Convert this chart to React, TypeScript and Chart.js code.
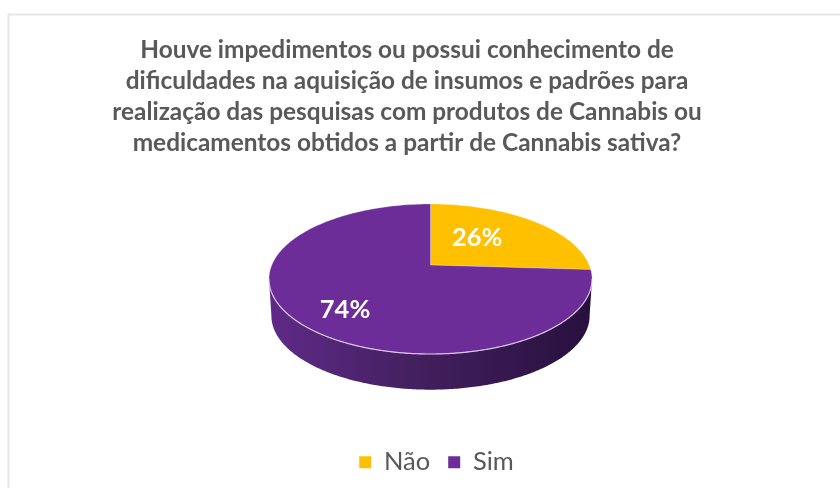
import React, { useEffect, useRef } from "react";
import { Chart, registerables } from "chart.js";

Chart.register(...registerables);

const categories = ["Não", "Sim"];
const values = [26, 74];
const sliceColors = ["#FFC000", "#6C2D99"];
const titleLines = [
  "Houve impedimentos ou possui conhecimento de",
  "dificuldades na aquisição de insumos e padrões para",
  "realização das pesquisas com produtos de Cannabis ou",
  "medicamentos obtidos a partir de Cannabis sativa?",
];

const FONT = "Lato, Carlito, sans-serif";
const CX = 430.5;
const CY = 265;
const TILT_K = 72.4;
const TILT_P = -0.1867;
const DEPTH = 37;

// Perspective projection of a point of the disc (angle from top, clockwise; f = fraction of radius)
function project(a: number, f: number, R: number, dy = 0, shrink = 1) {
  const v = -Math.cos(a) * f;
  const den = 1 + TILT_P * v;
  return {
    x: CX + (R * shrink * Math.sin(a) * f) / den,
    y: CY + dy + (TILT_K * shrink * v) / den,
  };
}

const pie3d = {
  id: "pie3d",
  beforeDraw(chart: any) {
    const { ctx, width, height } = chart;
    ctx.save();
    ctx.fillStyle = "#ffffff";
    ctx.fillRect(0, 0, width, height);
    ctx.strokeStyle = "#e6e6e6";
    ctx.lineWidth = 2;
    ctx.beginPath();
    ctx.moveTo(8.5, height);
    ctx.lineTo(8.5, 14.5);
    ctx.lineTo(width, 14.5);
    ctx.stroke();
    ctx.restore();
  },
  afterLayout(chart: any) {
    chart.titleBlock.left -= 13;
    chart.titleBlock.right -= 13;
    chart.legend.left += 16.5;
    chart.legend.right += 16.5;
    chart.legend.top -= 3;
    chart.legend.bottom -= 3;
  },
  beforeDatasetDraw(chart: any, args: any) {
    const { ctx } = chart;
    const arcs = args.meta.data;
    const R = arcs[0].outerRadius;
    const STEPS = 240;

    // find the extreme left / right of the rim
    let aRight = 0;
    let aLeft = 0;
    let maxX = -Infinity;
    let minX = Infinity;
    for (let i = 0; i <= STEPS; i++) {
      const a = (i / STEPS) * Math.PI * 2;
      const p = project(a, 1, R);
      if (p.x > maxX) { maxX = p.x; aRight = a; }
      if (p.x < minX) { minX = p.x; aLeft = a; }
    }

    // side wall
    const grad = ctx.createLinearGradient(minX, 0, maxX, 0);
    grad.addColorStop(0, "#5F2A88");
    grad.addColorStop(0.45, "#43205F");
    grad.addColorStop(1, "#28103E");
    ctx.save();
    ctx.beginPath();
    for (let i = 0; i <= STEPS; i++) {
      const a = aRight + (i / STEPS) * (aLeft - aRight);
      const p = project(a, 1, R, DEPTH, 0.985);
      if (i === 0) ctx.moveTo(p.x, p.y);
      else ctx.lineTo(p.x, p.y);
    }
    for (let i = 0; i <= STEPS; i++) {
      const a = aLeft + (i / STEPS) * (aRight - aLeft);
      const p = project(a, 1, R);
      ctx.lineTo(p.x, p.y);
    }
    ctx.closePath();
    ctx.fillStyle = grad;
    ctx.fill();

    // top faces
    arcs.forEach((arc: any) => {
      const start = arc.startAngle + Math.PI / 2;
      const end = arc.endAngle + Math.PI / 2;
      ctx.beginPath();
      ctx.moveTo(CX, CY);
      const n = Math.max(2, Math.ceil(((end - start) / (Math.PI * 2)) * STEPS));
      for (let i = 0; i <= n; i++) {
        const p = project(start + (i / n) * (end - start), 1, R);
        ctx.lineTo(p.x, p.y);
      }
      ctx.closePath();
      ctx.fillStyle = arc.options.backgroundColor;
      ctx.fill();
      ctx.strokeStyle = "rgba(255,255,255,0.35)";
      ctx.lineWidth = 0.75;
      ctx.stroke();
    });

    // light front rim
    ctx.beginPath();
    for (let i = 0; i <= STEPS; i++) {
      const a = aRight + (i / STEPS) * (aLeft - aRight);
      const p = project(a, 1, R);
      if (i === 0) ctx.moveTo(p.x, p.y);
      else ctx.lineTo(p.x, p.y);
    }
    ctx.strokeStyle = "rgba(225,210,235,0.85)";
    ctx.lineWidth = 1.2;
    ctx.stroke();

    // data labels
    ctx.font = `700 25.5px ${FONT}`;
    ctx.fillStyle = "#ffffff";
    ctx.textAlign = "center";
    ctx.textBaseline = "middle";
    const fractions = [0.45, 0.7];
    const nudge = [[-2.5, -6], [3.5, 7]];
    arcs.forEach((arc: any, idx: number) => {
      const mid = (arc.startAngle + arc.endAngle) / 2 + Math.PI / 2;
      const p = project(mid, fractions[idx], R);
      ctx.fillText(`${values[idx]}%`, p.x + nudge[idx][0], p.y + nudge[idx][1]);
    });
    ctx.restore();
    return false;
  },
};

export default function App() {
  const ref = useRef<HTMLCanvasElement>(null);
  useEffect(() => {
    const chart = new Chart(ref.current as HTMLCanvasElement, {
      type: "pie",
      data: {
        labels: categories,
        datasets: [{ data: values, backgroundColor: sliceColors, borderWidth: 0 }],
      },
      options: {
        animation: false,
        responsive: false,
        radius: 158.7,
        plugins: {
          tooltip: { enabled: false },
          title: {
            display: true,
            text: titleLines,
            color: "#595959",
            font: { family: FONT, size: 24.4, weight: "bold", lineHeight: 1.265 },
            padding: { top: 35, bottom: 10 },
          },
          legend: {
            position: "bottom",
            labels: {
              color: "#595959",
              font: { family: FONT, size: 25.5 },
              boxWidth: 12,
              boxHeight: 12,
              padding: 18,
            },
          },
        },
      } as any,
      plugins: [pie3d as any],
    });
    return () => chart.destroy();
  }, []);
  return (
    <div style={{ position: "absolute", left: 0, top: 0, width: 840, height: 488, overflow: "hidden" }}>
      <canvas ref={ref} width={840} height={488} style={{ display: "block", filter: "blur(0.45px)" }} />
    </div>
  );
}
